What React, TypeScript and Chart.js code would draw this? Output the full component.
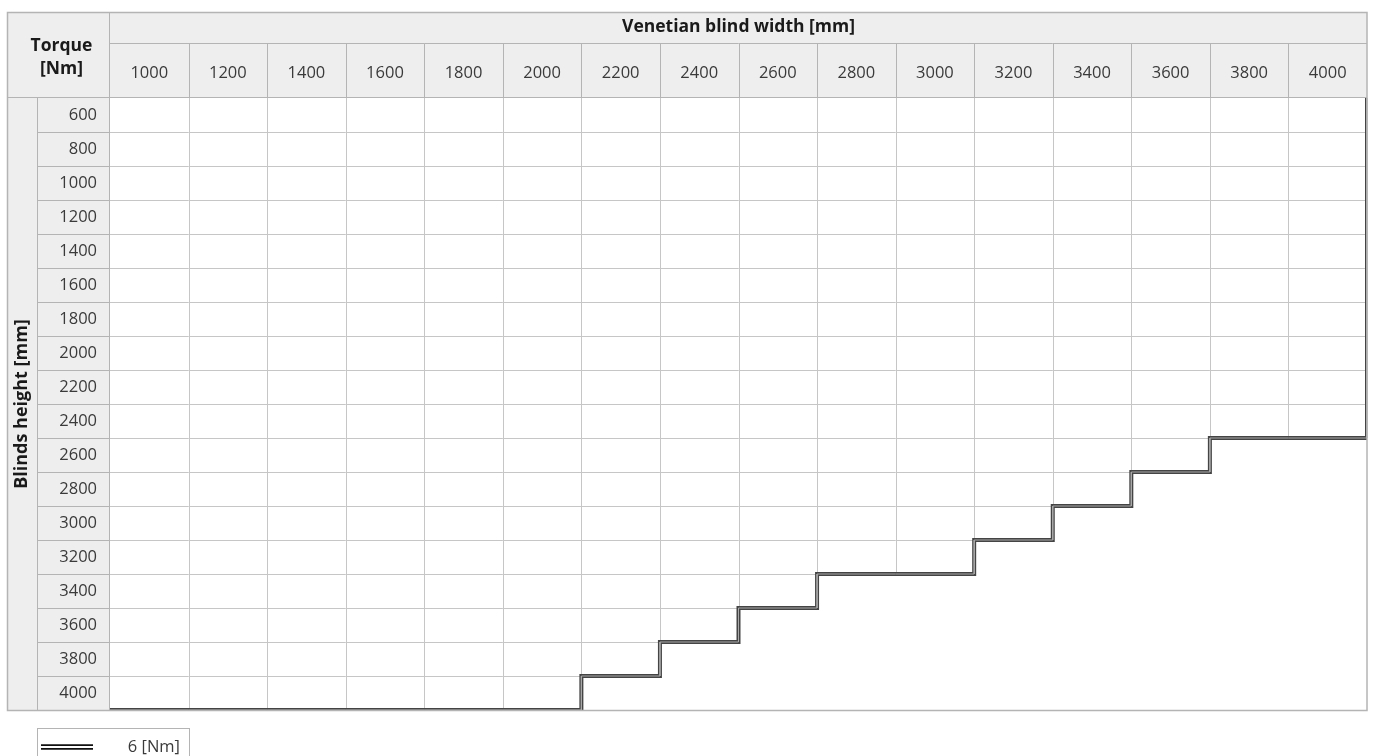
import React, { useEffect, useRef } from "react";
import { Chart, registerables } from "chart.js";

Chart.register(...registerables);

// ---- data ----
const widths = ["1000", "1200", "1400", "1600", "1800", "2000", "2200", "2400", "2600", "2800", "3000", "3200", "3400", "3600", "3800", "4000"];
const heights = ["600", "800", "1000", "1200", "1400", "1600", "1800", "2000", "2200", "2400", "2600", "2800", "3000", "3200", "3400", "3600", "3800", "4000"];
// maximum blind height [mm] allowed for each width at 6 Nm
const maxHeightPerWidth = [4000, 4000, 4000, 4000, 4000, 4000, 3800, 3600, 3400, 3200, 3200, 3000, 2800, 2600, 2400, 2400];
const seriesLabel = "6 [Nm]";
const cornerLabel = ["Torque", "[Nm]"];
const xTitle = "Venetian blind width [mm]";
const yTitle = "Blinds height [mm]";

const FONT = "'Open Sans', 'DejaVu Sans', sans-serif";
const HEADER_BG = "#eeeeee";
const GRID = "#c6c6c6";
const BORDER = "#b4b4b4";
const TEXT = "#3a3a3a";

const rowIndexOf = (h: number) => heights.indexOf(String(h));

// boundary polyline of the 6 Nm area, in scale units (column / row edges)
function boundaryPoints() {
  const pts: { x: number; y: number }[] = [];
  const last = widths.length - 1;
  pts.push({ x: last + 0.5, y: -0.5 });
  for (let c = last; c >= 0; c--) {
    const r = rowIndexOf(maxHeightPerWidth[c]);
    pts.push({ x: c + 0.5, y: r + 0.5 });
    pts.push({ x: c - 0.5, y: r + 0.5 });
  }
  return pts;
}

const crisp = (v: number) => Math.round(v) + 0.5;

const tablePlugin = {
  id: "tablePlugin",
  beforeDraw(chart: any) {
    const { ctx, chartArea } = chart;
    const xs = chart.scales.x;
    const ys = chart.scales.y;
    const tLeft = ys.left;
    const tTop = xs.top;
    const { left, top, right, bottom } = chartArea;
    ctx.save();
    ctx.fillStyle = HEADER_BG;
    ctx.fillRect(tLeft, tTop, right - tLeft, top - tTop);
    ctx.fillRect(tLeft, top, left - tLeft, bottom - top);
    ctx.fillStyle = "#ffffff";
    ctx.fillRect(left, top, right - left, bottom - top);

    ctx.strokeStyle = BORDER;
    ctx.lineWidth = 1;
    const titleSplit = crisp(tTop + 31);
    const labelSplit = crisp(tLeft + 30);
    ctx.beginPath();
    ctx.moveTo(left, titleSplit);
    ctx.lineTo(right, titleSplit);
    ctx.moveTo(tLeft, crisp(top - 1));
    ctx.lineTo(right, crisp(top - 1));
    ctx.moveTo(crisp(left - 1), tTop);
    ctx.lineTo(crisp(left - 1), bottom);
    ctx.moveTo(labelSplit, top);
    ctx.lineTo(labelSplit, bottom);
    for (let c = 1; c < widths.length; c++) {
      const px = crisp(xs.getPixelForValue(c - 0.5));
      ctx.moveTo(px, titleSplit);
      ctx.lineTo(px, top);
    }
    for (let r = 0; r < heights.length - 1; r++) {
      const py = crisp(ys.getPixelForValue(r + 0.5));
      ctx.moveTo(labelSplit, py);
      ctx.lineTo(left, py);
    }
    ctx.stroke();
    ctx.restore();
  },
  beforeDatasetsDraw(chart: any) {
    const { ctx } = chart;
    const xs = chart.scales.x;
    const ys = chart.scales.y;
    const top = chart.chartArea.top;
    ctx.save();
    ctx.strokeStyle = GRID;
    ctx.lineWidth = 1;
    ctx.beginPath();
    for (let c = 0; c < widths.length; c++) {
      const rMax = rowIndexOf(maxHeightPerWidth[c]);
      const x0 = xs.getPixelForValue(c - 0.5);
      const x1 = xs.getPixelForValue(c + 0.5);
      for (let r = 0; r <= rMax; r++) {
        const py = crisp(ys.getPixelForValue(r + 0.5));
        ctx.moveTo(x0, py);
        ctx.lineTo(x1, py);
      }
      const px = crisp(x1);
      ctx.moveTo(px, top);
      ctx.lineTo(px, ys.getPixelForValue(rMax + 0.5));
    }
    ctx.stroke();
    ctx.restore();
  },
  afterDraw(chart: any) {
    const { ctx, chartArea } = chart;
    const xs = chart.scales.x;
    const ys = chart.scales.y;
    const tLeft = ys.left;
    const tTop = xs.top;
    const { left, right, bottom } = chartArea;
    ctx.save();
    ctx.strokeStyle = BORDER;
    ctx.lineWidth = 1.5;
    ctx.strokeRect(tLeft + 0.5, tTop + 0.5, right - tLeft - 0.5, bottom - tTop);

    // corner label
    ctx.fillStyle = "#1a1a1a";
    ctx.font = `bold 17.5px ${FONT}`;
    ctx.textAlign = "center";
    ctx.textBaseline = "middle";
    const cx = (tLeft + left) / 2 + 3;
    ctx.fillText(cornerLabel[0], cx, tTop + 34);
    ctx.fillText(cornerLabel[1], cx, tTop + 57);

    // legend
    const lx = tLeft + 30;
    const ly = bottom + 18;
    ctx.strokeStyle = BORDER;
    ctx.lineWidth = 1;
    ctx.strokeRect(crisp(lx), crisp(ly), 152, 60);
    const sy = ly + 19;
    ctx.strokeStyle = "#111111";
    ctx.lineWidth = 5.5;
    ctx.beginPath();
    ctx.moveTo(lx + 4, sy);
    ctx.lineTo(lx + 56, sy);
    ctx.stroke();
    ctx.strokeStyle = "#ffffff";
    ctx.lineWidth = 1.8;
    ctx.beginPath();
    ctx.moveTo(lx + 4, sy);
    ctx.lineTo(lx + 56, sy);
    ctx.stroke();
    ctx.fillStyle = TEXT;
    ctx.font = `16.5px ${FONT}`;
    ctx.textAlign = "right";
    ctx.textBaseline = "middle";
    ctx.fillText(seriesLabel, lx + 143, sy);
    ctx.restore();
  },
};

export default function App() {
  const canvasRef = useRef<HTMLCanvasElement | null>(null);

  useEffect(() => {
    const canvas = canvasRef.current;
    if (!canvas) return;
    const pts = boundaryPoints();
    const chart = new Chart(canvas, {
      type: "scatter",
      data: {
        datasets: [
          {
            label: seriesLabel,
            data: pts,
            showLine: true,
            borderColor: "#444444",
            borderWidth: 4,
            pointRadius: 0,
            borderJoinStyle: "miter",
            order: 2,
          },
          {
            label: seriesLabel + " inner",
            data: pts,
            showLine: true,
            borderColor: "#a8a8a8",
            borderWidth: 1,
            pointRadius: 0,
            borderJoinStyle: "miter",
            order: 1,
          },
        ],
      },
      options: {
        responsive: false,
        animation: false,
        layout: { padding: { top: 12, left: 7, right: 6, bottom: 46 } },
        plugins: {
          legend: { display: false },
          tooltip: { enabled: false },
        },
        scales: {
          x: {
            type: "linear",
            position: "top",
            min: -0.5,
            max: widths.length - 0.5,
            grid: { display: false, drawTicks: false },
            border: { display: false },
            afterBuildTicks: (scale: any) => {
              scale.ticks = widths.map((_, i) => ({ value: i }));
            },
            afterFit: (scale: any) => {
              scale.height = 86;
            },
            ticks: {
              autoSkip: false,
              maxRotation: 0,
              padding: 15,
              color: TEXT,
              font: { family: FONT, size: 16.5, weight: "normal" },
              callback: (v: any) => widths[Number(v)] ?? "",
            },
            title: {
              display: true,
              text: xTitle,
              color: "#1a1a1a",
              padding: { top: 5, bottom: 0 },
              font: { family: FONT, size: 17.5, weight: "bold" },
            },
          },
          y: {
            type: "linear",
            reverse: true,
            min: -0.5,
            max: heights.length - 0.5,
            grid: { display: false, drawTicks: false },
            border: { display: false },
            afterBuildTicks: (scale: any) => {
              scale.ticks = heights.map((_, i) => ({ value: i }));
            },
            afterFit: (scale: any) => {
              scale.width = 103;
            },
            ticks: {
              autoSkip: false,
              padding: 13,
              color: TEXT,
              font: { family: FONT, size: 16.5, weight: "normal" },
              callback: (v: any) => heights[Number(v)] ?? "",
            },
            title: {
              display: true,
              text: yTitle,
              color: "#1a1a1a",
              padding: { top: 4, bottom: 0 },
              font: { family: FONT, size: 18, weight: "bold" },
            },
          },
        },
      },
      plugins: [tablePlugin],
    } as any);
    return () => chart.destroy();
  }, []);

  return (
    <div style={{ position: "absolute", left: 0, top: 0, width: 1373, height: 756, background: "#ffffff" }}>
      <canvas ref={canvasRef} width={1373} height={756} />
    </div>
  );
}
